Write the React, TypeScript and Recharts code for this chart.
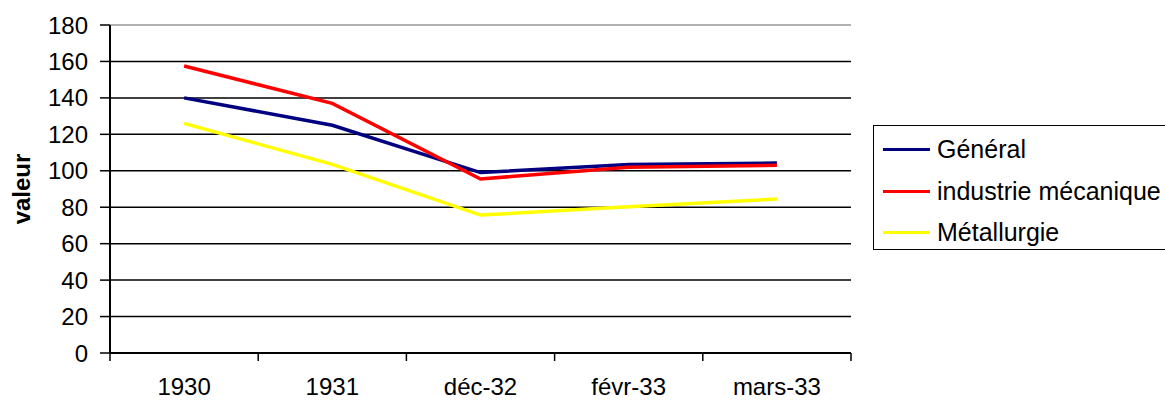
import React from 'react';
import { LineChart, Line, XAxis, YAxis, CartesianGrid, Legend, ReferenceLine } from 'recharts';

const periods = ['1930', '1931', 'déc-32', 'févr-33', 'mars-33'];
const general = [140, 125, 99, 103.5, 104.2];
const mecanique = [157.5, 137, 95.5, 102, 103];
const metallurgie = [126, 103.5, 75.7, 80.3, 84.5];
const yTicks = [0, 20, 40, 60, 80, 100, 120, 140, 160, 180];

const series = [
  { key: 'general', name: 'Général', color: '#000080' },
  { key: 'mecanique', name: 'industrie mécanique', color: '#ff0000' },
  { key: 'metallurgie', name: 'Métallurgie', color: '#ffff00' },
];

const data = periods.map((p, i) => ({
  period: p,
  general: general[i],
  mecanique: mecanique[i],
  metallurgie: metallurgie[i],
}));

const FONT = 'Arial, "Liberation Sans", sans-serif';
const W = 1165;
const H = 401;
const PLOT_LEFT = 110;
const PLOT_RIGHT = 851;
const BAND = (PLOT_RIGHT - PLOT_LEFT) / periods.length;

// category axis: labels at band centres, tick marks on the band edges
function PeriodTick(props: any) {
  const { x, y, payload, index } = props;
  const axisY = y - 8;
  const left = x - BAND / 2;
  return (
    <g>
      <line x1={left} y1={axisY} x2={left} y2={axisY + 8} stroke="#000" strokeWidth={1.5} />
      {index === periods.length - 1 && (
        <line x1={x + BAND / 2} y1={axisY} x2={x + BAND / 2} y2={axisY + 8} stroke="#000" strokeWidth={1.5} />
      )}
      <text x={x} y={axisY + 42} textAnchor="middle" fontSize={24} fontFamily={FONT} fill="#000">
        {payload.value}
      </text>
    </g>
  );
}

function ValueLabel() {
  return (
    <text
      x={30}
      y={189}
      transform="rotate(-90, 30, 189)"
      textAnchor="middle"
      fontSize={24}
      fontWeight="bold"
      fontFamily={FONT}
      fill="#000"
    >
      valeur
    </text>
  );
}

// legend keeps the series order (recharts would sort the payload)
function LegendBox() {
  return (
    <div
      style={{
        boxSizing: 'border-box',
        width: 320,
        height: 125,
        border: '1.5px solid #000',
        background: '#fff',
        paddingTop: 3,
        fontFamily: FONT,
        fontSize: 25,
        color: '#000',
      }}
    >
      {series.map((s) => (
        <div key={s.key} style={{ display: 'flex', alignItems: 'center', height: 41.5, paddingLeft: 9 }}>
          <span style={{ display: 'inline-block', width: 47, height: 3, background: s.color, marginRight: 7 }} />
          <span style={{ whiteSpace: 'nowrap' }}>{s.name}</span>
        </div>
      ))}
    </div>
  );
}

export default function App() {
  return (
    <div style={{ position: 'absolute', left: 0, top: 0, width: W, height: H, overflow: 'hidden', background: '#fff' }}>
      <LineChart width={W} height={H} data={data} margin={{ top: 25, right: W - PLOT_RIGHT, bottom: 0, left: 0 }}>
        <CartesianGrid vertical={false} stroke="#000" strokeWidth={1.5} />
        <ReferenceLine y={180} stroke="#d9d9d9" strokeWidth={1.5} />
        <XAxis
          dataKey="period"
          scale="band"
          interval={0}
          height={48}
          tickLine={false}
          tickSize={8}
          tickMargin={0}
          axisLine={{ stroke: '#000', strokeWidth: 2 }}
          tick={<PeriodTick />}
        />
        <YAxis
          type="number"
          domain={[0, 180]}
          ticks={yTicks}
          interval={0}
          width={PLOT_LEFT}
          tickSize={10}
          tickMargin={12}
          axisLine={{ stroke: '#000', strokeWidth: 2 }}
          tickLine={{ stroke: '#000', strokeWidth: 1.5 }}
          tick={{ fontSize: 24, fontFamily: FONT, fill: '#000' }}
          label={<ValueLabel />}
        />
        <Legend
          layout="horizontal"
          align="center"
          verticalAlign="middle"
          wrapperStyle={{ left: 873, top: 125, width: 320 }}
          content={<LegendBox />}
        />
        {series.map((s) => (
          <Line
            key={s.key}
            type="linear"
            dataKey={s.key}
            name={s.name}
            stroke={s.color}
            strokeWidth={3.5}
            dot={false}
            isAnimationActive={false}
          />
        ))}
      </LineChart>
    </div>
  );
}
